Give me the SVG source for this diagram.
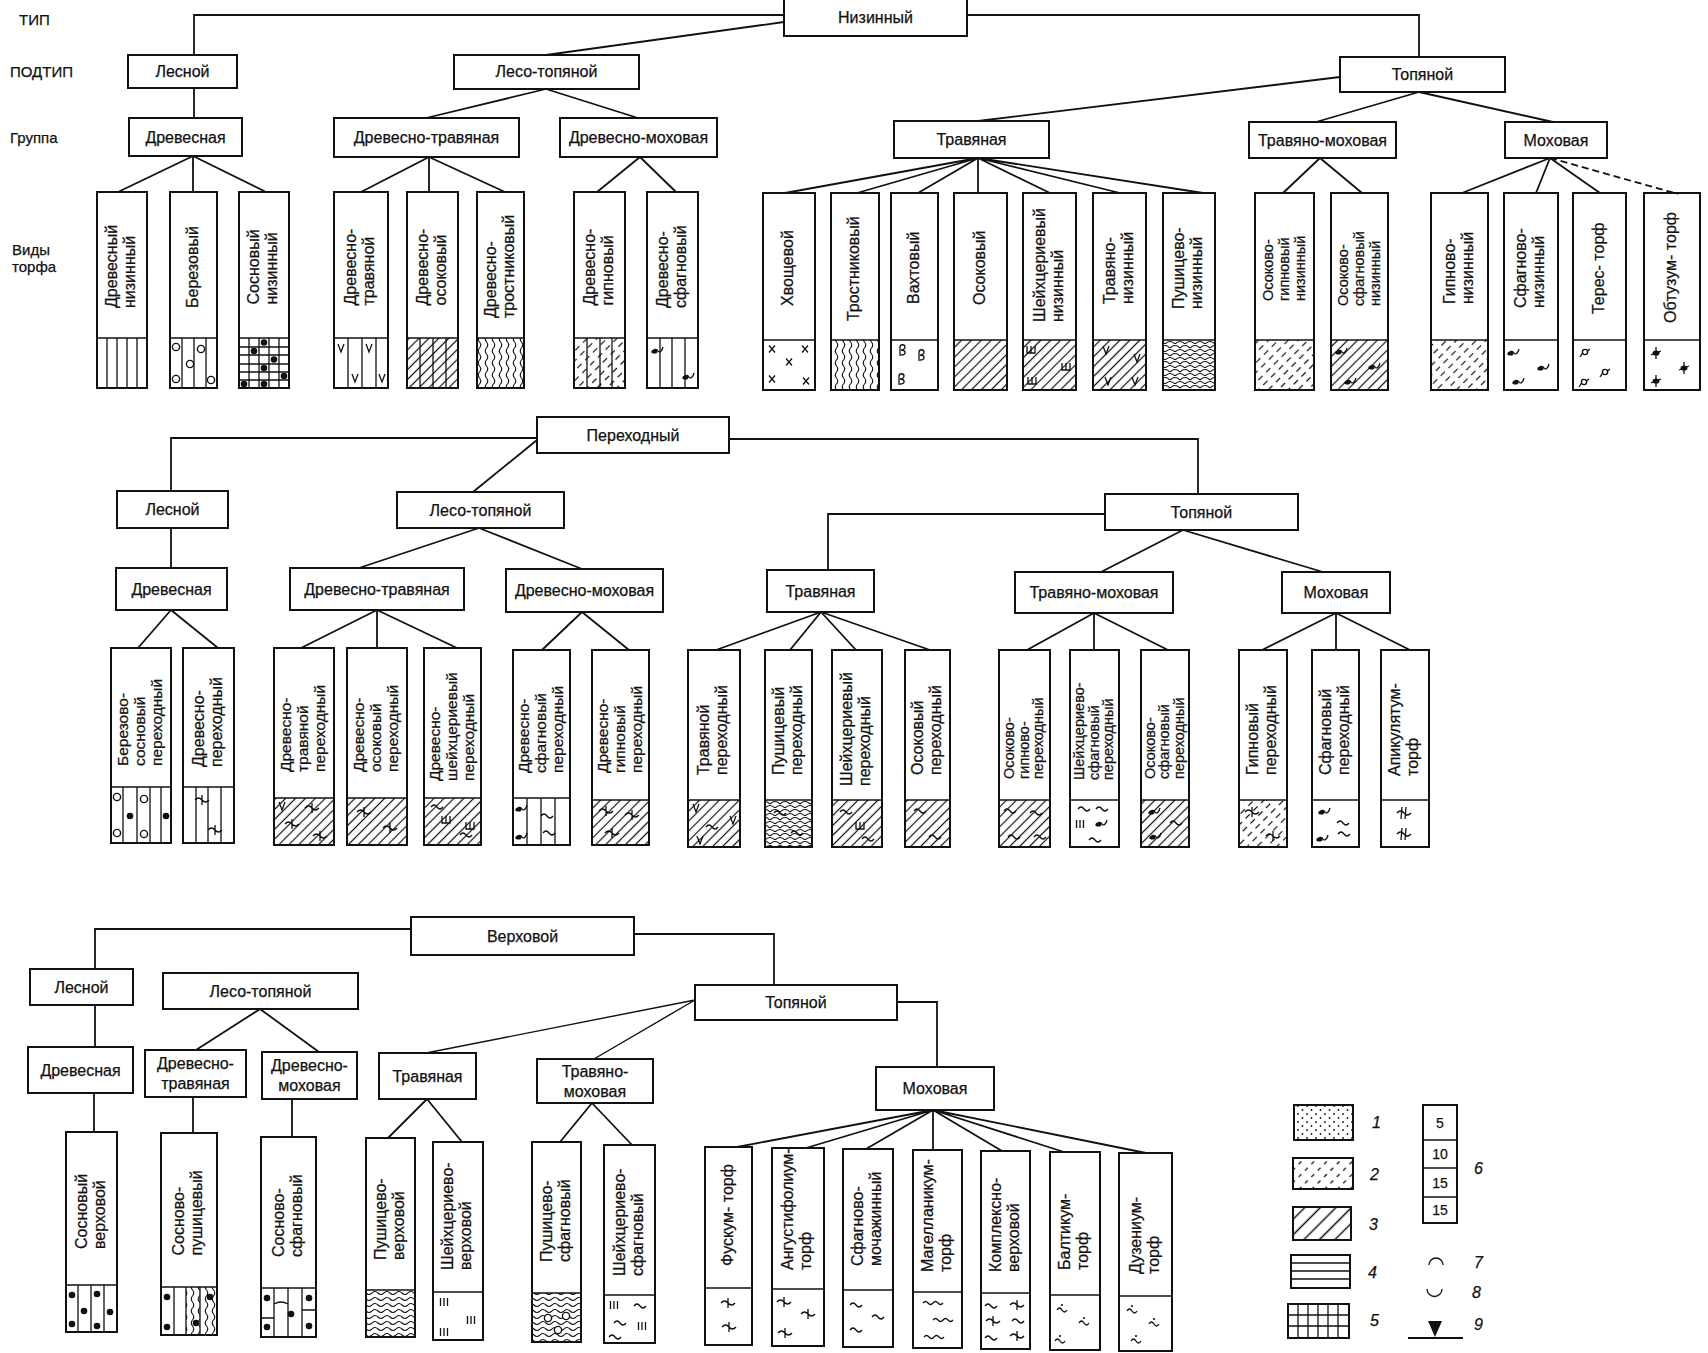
<svg xmlns="http://www.w3.org/2000/svg" width="1708" height="1353" viewBox="0 0 1708 1353">
<style>
.bx{fill:#fff;stroke:#111;stroke-width:2}
.cn{fill:none;stroke:#111;stroke-width:1.8}
.col{fill:none;stroke:#111;stroke-width:2}
.dv{stroke:#111;stroke-width:1.6}
.pl{stroke:#111;stroke-width:1.3;fill:none}
text{font-family:"Liberation Sans","DejaVu Sans",sans-serif;fill:#111;stroke:#111;stroke-width:0.25}
.bt{font-size:16px;text-anchor:middle}
.ct{font-size:16px}
.c3{font-size:15.5px}
.c14{font-size:14.5px}
.cs{font-size:14.5px}
.side{font-size:15px}
.lg{font-size:16px;font-style:italic}
.lgn{font-size:14px;text-anchor:middle}
</style>
<defs>
<pattern id="pd" patternUnits="userSpaceOnUse" width="7" height="7" patternTransform="rotate(45)"><line x1="3.5" y1="-1" x2="3.5" y2="8" stroke="#111" stroke-width="1.2"/></pattern>
<pattern id="pdd" patternUnits="userSpaceOnUse" width="7" height="11" patternTransform="rotate(45)"><line x1="3.5" y1="0" x2="3.5" y2="6" stroke="#111" stroke-width="1.2"/></pattern>
<pattern id="pd3" patternUnits="userSpaceOnUse" width="11" height="11" patternTransform="rotate(45)"><line x1="5.5" y1="-1" x2="5.5" y2="12" stroke="#111" stroke-width="1.5"/></pattern>
<pattern id="pdl" patternUnits="userSpaceOnUse" width="9" height="9" patternTransform="rotate(45)"><line x1="4.5" y1="0" x2="4.5" y2="4" stroke="#111" stroke-width="1.3"/></pattern>
<pattern id="pwv" patternUnits="userSpaceOnUse" width="7" height="12"><path d="M3.5,0Q1,3 3.5,6T3.5,12" fill="none" stroke="#111" stroke-width="1.1"/></pattern>
<pattern id="pwh" patternUnits="userSpaceOnUse" width="12" height="6"><path d="M0,3Q3,0 6,3T12,3" fill="none" stroke="#111" stroke-width="1.1"/></pattern>
<pattern id="psc" patternUnits="userSpaceOnUse" width="10" height="8"><path d="M0,4Q5,-1 10,4M-5,8Q0,3 5,8M5,8Q10,3 15,8" fill="none" stroke="#111" stroke-width="1.1"/></pattern>
<pattern id="pdot" patternUnits="userSpaceOnUse" width="9" height="8"><circle cx="2" cy="2" r="0.9" fill="#111"/><circle cx="6.5" cy="6" r="0.9" fill="#111"/></pattern>
<g id="sx"><path class="pl" d="M-3,-3.5L3,3.5M3,-3.5L-3,3.5"/></g>
<g id="so"><circle r="3.6" fill="#fff" stroke="#111" stroke-width="1.4"/></g>
<g id="sdot"><circle r="3.3" fill="#111"/></g>
<g id="sv"><path class="pl" d="M-3,-4L0,4L3,-4"/></g>
<g id="ssph"><path class="pl" d="M-5,3C-3,-2 0,-1 1,1C2,3 5,2 6,-3"/><ellipse cx="-2.5" cy="1.5" rx="3" ry="2" fill="#111"/></g>
<g id="sw"><path class="pl" d="M-6,1Q-3,-3 0,1T6,1"/></g>
<g id="s3"><path class="pl" d="M-3.5,-4V4M0,-4V4M3.5,-4V4"/></g>
<g id="ssh"><path class="pl" d="M-4,-4V3H4V-4M0,-4V3"/></g>
<g id="shy"><path class="pl" d="M-7,0Q-3.5,-4 0,0T7,0M0,-5V5"/></g>
<g id="sleaf"><path class="pl" d="M-2,6V-3C-2,-6 3,-6 3,-3C3,-1 1,0 -1,0C4,0 5,5 -1,5"/></g>
<g id="ster"><circle r="2.6" fill="none" stroke="#111" stroke-width="1.4"/><path class="pl" d="M-2.4,1L-5,5M2.5,-1L5,-3"/></g>
<g id="sob"><ellipse rx="3.5" ry="2.6" fill="#111"/><path class="pl" d="M0,-6V6M-5,2L5,-2"/></g>
<g id="sap"><path class="pl" d="M-7,0Q-3.5,-4 0,0T7,0M-2,-6L-3,6M2,-6L1,6"/></g>
<g id="swd"><path class="pl" d="M-5,1Q-2.5,-3 0,1T5,1"/><circle cx="0" cy="-4" r="1.1" fill="#111"/></g>
<g id="sww"><path class="pl" d="M-10,0Q-7.5,-3 -5,0T0,0T5,0T10,0"/></g>
</defs>
<rect x="0" y="0" width="1708" height="1353" fill="#fff"/>

<g id="side-labels" class="side">
<text x="19" y="25">ТИП</text>
<text x="10" y="77">ПОДТИП</text>
<text x="10" y="143">Группа</text>
<text x="12" y="255">Виды</text>
<text x="12" y="272">торфа</text>
</g>

<g id="connectors" class="cn">
<path d="M784,15H194V55M784,22L546,55M967,15H1419V57M194,88V118"/>
<path d="M546,89L426,118M546,89L638,118"/>
<path d="M193,156L118,192M193,156V192M193,156L266,192"/>
<path d="M429,157L361,192M429,157V192M429,157L505,192"/>
<path d="M640,157L597,192M640,157L676,192"/>
<path d="M1340,77L978,121M1419,92L1316,122M1419,92L1553,122"/>
<path d="M978,158L785,193M978,158L857,193M978,158L918,193M978,158V193M978,158L1050,193M978,158L1120,193M978,158L1203,193"/>
<path d="M1320,158L1283,193M1320,158L1362,193"/>
<path d="M1550,158L1462,193M1550,158L1536,193M1550,158L1600,193"/>
<path d="M1550,158L1678,194" stroke-dasharray="7 4"/>
<path d="M537,438H171V491M537,440L473,492M729,439H1198V494M171,528V568"/>
<path d="M479,528L359,568M479,528L582,569M1105,514H828V570M1183,530L1101,572M1183,530L1323,572"/>
<path d="M171,610L138,648M171,610L218,648"/>
<path d="M377,610L301,648M377,610V648M377,610L457,648"/>
<path d="M582,612L542,650M582,612L629,650"/>
<path d="M821,612L716,650M821,612L790,650M821,612L856,650M821,612L930,650"/>
<path d="M1094,613L1027,650M1094,613V650M1094,613L1168,650"/>
<path d="M1336,613L1262,650M1336,613V650M1336,613L1410,650"/>
<path d="M411,929H95V969M634,934H774V985M95,1005V1047"/>
<path d="M260,1009L196,1050M260,1009L319,1052"/>
<path d="M695,1000L426,1053M695,1000L594,1059" stroke-width="1.4"/>
<path d="M897,1002H937V1067"/>
<path d="M94,1093V1132M193,1097V1133M292,1099V1137"/>
<path d="M427,1099L388,1138M427,1099L462,1142M592,1103L560,1142M592,1103L632,1145"/>
<path d="M933,1110L737,1147M933,1110L806,1148M933,1110L866,1149M933,1110V1150M933,1110L1002,1151M933,1110L1064,1152M933,1110L1146,1153"/>
</g>

<!-- Section 1 boxes -->
<g id="b-nizinny"><rect class="bx" x="784" y="-2" width="183" height="38"/><text class="bt" x="875.5" y="23">Низинный</text></g>
<g id="b1-lesnoy"><rect class="bx" x="128" y="55" width="109" height="33"/><text class="bt" x="182.5" y="77">Лесной</text></g>
<g id="b1-lesotop"><rect class="bx" x="454" y="55" width="185" height="34"/><text class="bt" x="546.5" y="77">Лесо-топяной</text></g>
<g id="b1-topyanoy"><rect class="bx" x="1340" y="57" width="165" height="35"/><text class="bt" x="1422.5" y="80">Топяной</text></g>
<g id="b1-drev"><rect class="bx" x="129" y="118" width="113" height="38"/><text class="bt" x="185.5" y="142.5">Древесная</text></g>
<g id="b1-drevtr"><rect class="bx" x="334" y="118" width="185" height="39"/><text class="bt" x="426.5" y="143">Древесно-травяная</text></g>
<g id="b1-drevmh"><rect class="bx" x="560" y="118" width="157" height="39"/><text class="bt" x="638.5" y="143">Древесно-моховая</text></g>
<g id="b1-trav"><rect class="bx" x="894" y="121" width="155" height="37"/><text class="bt" x="971.5" y="145">Травяная</text></g>
<g id="b1-travmh"><rect class="bx" x="1249" y="122" width="147" height="36"/><text class="bt" x="1322.5" y="145.5">Травяно-моховая</text></g>
<g id="b1-moh"><rect class="bx" x="1505" y="122" width="102" height="36"/><text class="bt" x="1556" y="145.5">Моховая</text></g>

<!-- Section 1 columns -->
<g id="v1-a">
<path class="pl" d="M107,338V388M117,338V388M127,338V388M137,338V388"/>
<rect class="col" x="97" y="192" width="50" height="196"/><line class="dv" x1="97" y1="338" x2="147" y2="338"/>
<text class="ct" transform="translate(117,308) rotate(-90)"><tspan x="0" y="0">Древесный</tspan><tspan x="0" y="18">низинный</tspan></text>
</g>
<g id="v1-b">
<path class="pl" d="M182,338V388M194,338V388M206,338V388"/>
<use href="#so" x="176" y="347"/><use href="#so" x="201" y="349"/><use href="#so" x="190" y="364"/><use href="#so" x="176" y="379"/><use href="#so" x="211" y="380"/>
<rect class="col" x="170" y="192" width="47" height="196"/><line class="dv" x1="170" y1="338" x2="217" y2="338"/>
<text class="ct" transform="translate(197.5,308) rotate(-90)">Березовый</text>
</g>
<g id="v1-c">
<path class="pl" d="M249,338V388M259,338V388M269,338V388M279,338V388M239,347H289M239,355H289M239,364H289M239,372H289M239,380H289"/>
<use href="#sdot" x="264" y="342.5"/><use href="#sdot" x="254" y="351"/><use href="#sdot" x="274" y="359.5"/><use href="#sdot" x="264" y="368"/><use href="#sdot" x="244" y="384"/><use href="#sdot" x="264" y="384"/><use href="#sdot" x="284" y="376"/>
<rect class="col" x="239" y="192" width="50" height="196"/><line class="dv" x1="239" y1="338" x2="289" y2="338"/>
<text class="ct" transform="translate(259,304.5) rotate(-90)"><tspan x="0" y="0">Сосновый</tspan><tspan x="0" y="18">низинный</tspan></text>
</g>
<g id="v1-d">
<path class="pl" d="M348,338V388M362,338V388M376,338V388"/>
<use href="#sv" x="341" y="348"/><use href="#sv" x="369" y="348"/><use href="#sv" x="355" y="378"/><use href="#sv" x="382" y="378"/>
<rect class="col" x="334" y="192" width="54" height="196"/><line class="dv" x1="334" y1="338" x2="388" y2="338"/>
<text class="ct" transform="translate(356,305.5) rotate(-90)"><tspan x="0" y="0">Древесно-</tspan><tspan x="0" y="18">травяной</tspan></text>
</g>
<g id="v1-e">
<rect x="407" y="338" width="51" height="50" fill="url(#pd)"/>
<path class="pl" d="M420,338V388M433,338V388M446,338V388"/>
<rect class="col" x="407" y="192" width="51" height="196"/><line class="dv" x1="407" y1="338" x2="458" y2="338"/>
<text class="ct" transform="translate(427.5,305.5) rotate(-90)"><tspan x="0" y="0">Древесно-</tspan><tspan x="0" y="18">осоковый</tspan></text>
</g>
<g id="v1-f">
<rect x="477" y="338" width="47" height="50" fill="url(#pwv)"/>
<rect class="col" x="477" y="192" width="47" height="196"/><line class="dv" x1="477" y1="338" x2="524" y2="338"/>
<text class="ct" transform="translate(495.5,318) rotate(-90)"><tspan x="0" y="0">Древесно-</tspan><tspan x="0" y="18">тростниковый</tspan></text>
</g>
<g id="v1-g">
<rect x="574" y="338" width="51" height="50" fill="url(#pdd)"/>
<path class="pl" d="M587,338V388M600,338V388M612,338V388"/>
<rect class="col" x="574" y="192" width="51" height="196"/><line class="dv" x1="574" y1="338" x2="625" y2="338"/>
<text class="ct" transform="translate(594.5,305.5) rotate(-90)"><tspan x="0" y="0">Древесно-</tspan><tspan x="0" y="18">гипновый</tspan></text>
</g>
<g id="v1-h">
<path class="pl" d="M660,338V388M672,338V388M685,338V388"/>
<use href="#ssph" x="657" y="350"/><use href="#ssph" x="688" y="376"/>
<rect class="col" x="647" y="192" width="51" height="196"/><line class="dv" x1="647" y1="338" x2="698" y2="338"/>
<text class="ct" transform="translate(667.5,308) rotate(-90)"><tspan x="0" y="0">Древесно-</tspan><tspan x="0" y="18">сфагновый</tspan></text>
</g>
<g id="v1-i">
<use href="#sx" x="772" y="349"/><use href="#sx" x="805" y="349"/><use href="#sx" x="789" y="362"/><use href="#sx" x="772" y="379"/><use href="#sx" x="806" y="381"/>
<rect class="col" x="763" y="193" width="52" height="197"/><line class="dv" x1="763" y1="340" x2="815" y2="340"/>
<text class="ct" transform="translate(793,306) rotate(-90)">Хвощевой</text>
</g>
<g id="v1-j">
<rect x="831" y="340" width="48" height="50" fill="url(#pwv)"/>
<rect class="col" x="831" y="193" width="48" height="197"/><line class="dv" x1="831" y1="340" x2="879" y2="340"/>
<text class="ct" transform="translate(859,321) rotate(-90)">Тростниковый</text>
</g>
<g id="v1-k">
<use href="#sleaf" x="902" y="350"/><use href="#sleaf" x="921" y="355"/><use href="#sleaf" x="901" y="379"/>
<rect class="col" x="891" y="193" width="47" height="197"/><line class="dv" x1="891" y1="340" x2="938" y2="340"/>
<text class="ct" transform="translate(918.5,304) rotate(-90)">Вахтовый</text>
</g>
<g id="v1-l">
<rect x="954" y="340" width="53" height="50" fill="url(#pd)"/>
<rect class="col" x="954" y="193" width="53" height="197"/><line class="dv" x1="954" y1="340" x2="1007" y2="340"/>
<text class="ct" transform="translate(984.5,305) rotate(-90)">Осоковый</text>
</g>
<g id="v1-m">
<rect x="1023" y="340" width="53" height="50" fill="url(#pd)"/>
<use href="#ssh" x="1031" y="350"/><use href="#ssh" x="1066" y="367"/><use href="#ssh" x="1032" y="381"/>
<rect class="col" x="1023" y="193" width="53" height="197"/><line class="dv" x1="1023" y1="340" x2="1076" y2="340"/>
<text class="ct" transform="translate(1044.5,322) rotate(-90)"><tspan x="0" y="0">Шейхцериевый</tspan><tspan x="0" y="18">низинный</tspan></text>
</g>
<g id="v1-n">
<rect x="1093" y="340" width="53" height="50" fill="url(#pd)"/>
<use href="#sv" x="1106" y="350"/><use href="#sv" x="1137" y="358"/><use href="#sv" x="1108" y="381"/><use href="#sv" x="1135" y="381"/>
<rect class="col" x="1093" y="193" width="53" height="197"/><line class="dv" x1="1093" y1="340" x2="1146" y2="340"/>
<text class="ct" transform="translate(1114.5,304) rotate(-90)"><tspan x="0" y="0">Травяно-</tspan><tspan x="0" y="18">низинный</tspan></text>
</g>
<g id="v1-o">
<rect x="1163" y="340" width="52" height="50" fill="url(#psc)"/>
<rect class="col" x="1163" y="193" width="52" height="197"/><line class="dv" x1="1163" y1="340" x2="1215" y2="340"/>
<text class="ct" transform="translate(1184,309) rotate(-90)"><tspan x="0" y="0">Пушицево-</tspan><tspan x="0" y="18">низинный</tspan></text>
</g>
<g id="v1-p">
<rect x="1255" y="340" width="59" height="50" fill="url(#pdd)"/>
<rect class="col" x="1255" y="193" width="59" height="197"/><line class="dv" x1="1255" y1="340" x2="1314" y2="340"/>
<text class="c14" transform="translate(1272.5,301) rotate(-90)"><tspan x="0" y="0">Осоково-</tspan><tspan x="0" y="16">гипновый</tspan><tspan x="0" y="32">низинный</tspan></text>
</g>
<g id="v1-q">
<rect x="1331" y="340" width="57" height="50" fill="url(#pd)"/>
<use href="#ssph" x="1341" y="351"/><use href="#ssph" x="1374" y="366"/><use href="#ssph" x="1350" y="381"/>
<rect class="col" x="1331" y="193" width="57" height="197"/><line class="dv" x1="1331" y1="340" x2="1388" y2="340"/>
<text class="c14" transform="translate(1347.5,306) rotate(-90)"><tspan x="0" y="0">Осоково-</tspan><tspan x="0" y="16">сфагновый</tspan><tspan x="0" y="32">низинный</tspan></text>
</g>
<g id="v1-r">
<rect x="1431" y="340" width="57" height="50" fill="url(#pdd)"/>
<rect class="col" x="1431" y="193" width="57" height="197"/><line class="dv" x1="1431" y1="340" x2="1488" y2="340"/>
<text class="ct" transform="translate(1454.5,304) rotate(-90)"><tspan x="0" y="0">Гипново-</tspan><tspan x="0" y="18">низинный</tspan></text>
</g>
<g id="v1-s">
<use href="#ssph" x="1513" y="352"/><use href="#ssph" x="1543" y="367"/><use href="#ssph" x="1518" y="381"/>
<rect class="col" x="1504" y="193" width="54" height="197"/><line class="dv" x1="1504" y1="340" x2="1558" y2="340"/>
<text class="ct" transform="translate(1526,308) rotate(-90)"><tspan x="0" y="0">Сфагново-</tspan><tspan x="0" y="18">низинный</tspan></text>
</g>
<g id="v1-t">
<use href="#ster" x="1585" y="352"/><use href="#ster" x="1605" y="372"/><use href="#ster" x="1584" y="382"/>
<rect class="col" x="1573" y="193" width="53" height="197"/><line class="dv" x1="1573" y1="340" x2="1626" y2="340"/>
<text class="ct" transform="translate(1603.5,314) rotate(-90)">Терес- торф</text>
</g>
<g id="v1-u">
<use href="#sob" x="1656" y="353"/><use href="#sob" x="1684" y="368"/><use href="#sob" x="1656" y="381"/>
<rect class="col" x="1644" y="193" width="56" height="197"/><line class="dv" x1="1644" y1="340" x2="1700" y2="340"/>
<text class="ct" transform="translate(1676,323) rotate(-90)">Обтузум- торф</text>
</g>

<!-- Section 2 boxes -->
<g id="b-perehod"><rect class="bx" x="537" y="417" width="192" height="36"/><text class="bt" x="633" y="440.5">Переходный</text></g>
<g id="b2-lesnoy"><rect class="bx" x="117" y="491" width="111" height="37"/><text class="bt" x="172.5" y="514.5">Лесной</text></g>
<g id="b2-lesotop"><rect class="bx" x="397" y="492" width="167" height="36"/><text class="bt" x="480.5" y="515.5">Лесо-топяной</text></g>
<g id="b2-topyanoy"><rect class="bx" x="1105" y="494" width="193" height="36"/><text class="bt" x="1201.5" y="517.5">Топяной</text></g>
<g id="b2-drev"><rect class="bx" x="116" y="568" width="111" height="42"/><text class="bt" x="171.5" y="594.5">Древесная</text></g>
<g id="b2-drevtr"><rect class="bx" x="290" y="568" width="174" height="42"/><text class="bt" x="377" y="594.5">Древесно-травяная</text></g>
<g id="b2-drevmh"><rect class="bx" x="506" y="569" width="157" height="43"/><text class="bt" x="584.5" y="596">Древесно-моховая</text></g>
<g id="b2-trav"><rect class="bx" x="767" y="570" width="107" height="42"/><text class="bt" x="820.5" y="596.5">Травяная</text></g>
<g id="b2-travmh"><rect class="bx" x="1015" y="572" width="158" height="41"/><text class="bt" x="1094" y="598">Травяно-моховая</text></g>
<g id="b2-moh"><rect class="bx" x="1282" y="572" width="108" height="41"/><text class="bt" x="1336" y="598">Моховая</text></g>

<!-- Section 2 columns -->
<g id="v2-a">
<path class="pl" d="M123,787V843M137,787V843M150,787V843M161,787V843"/>
<use href="#so" x="117" y="797"/><use href="#so" x="144" y="799"/><use href="#so" x="117" y="833"/><use href="#so" x="144" y="834"/><use href="#sdot" x="130" y="816"/><use href="#sdot" x="166" y="816"/>
<rect class="col" x="111" y="648" width="60" height="195"/><line class="dv" x1="111" y1="787" x2="171" y2="787"/>
<text class="c3" transform="translate(128,766) rotate(-90)"><tspan x="0" y="0">Березово-</tspan><tspan x="0" y="17">сосновый</tspan><tspan x="0" y="34">переходный</tspan></text>
</g>
<g id="v2-b">
<path class="pl" d="M196,787V843M208,787V843M221,787V843"/>
<use href="#shy" x="202" y="800"/><use href="#shy" x="215" y="830"/>
<rect class="col" x="183" y="648" width="51" height="195"/><line class="dv" x1="183" y1="787" x2="234" y2="787"/>
<text class="ct" transform="translate(203.5,767) rotate(-90)"><tspan x="0" y="0">Древесно-</tspan><tspan x="0" y="18">переходный</tspan></text>
</g>
<g id="v2-c">
<rect x="274" y="798" width="60" height="47" fill="url(#pd)"/>
<use href="#sv" x="282" y="806"/><use href="#shy" x="312" y="808"/><use href="#shy" x="292" y="824"/><use href="#shy" x="320" y="836"/>
<rect class="col" x="274" y="648" width="60" height="197"/><line class="dv" x1="274" y1="798" x2="334" y2="798"/>
<text class="c3" transform="translate(291,772) rotate(-90)"><tspan x="0" y="0">Древесно-</tspan><tspan x="0" y="17">травяной</tspan><tspan x="0" y="34">переходный</tspan></text>
</g>
<g id="v2-d">
<rect x="347" y="798" width="60" height="47" fill="url(#pd)"/>
<use href="#shy" x="364" y="812"/><use href="#shy" x="390" y="828"/>
<rect class="col" x="347" y="648" width="60" height="197"/><line class="dv" x1="347" y1="798" x2="407" y2="798"/>
<text class="c3" transform="translate(364,772) rotate(-90)"><tspan x="0" y="0">Древесно-</tspan><tspan x="0" y="17">осоковый</tspan><tspan x="0" y="34">переходный</tspan></text>
</g>
<g id="v2-e">
<rect x="424" y="798" width="57" height="47" fill="url(#pd)"/>
<use href="#sw" x="437" y="806"/><use href="#ssh" x="446" y="820"/><use href="#sw" x="466" y="834"/><use href="#ssh" x="470" y="826"/>
<rect class="col" x="424" y="648" width="57" height="197"/><line class="dv" x1="424" y1="798" x2="481" y2="798"/>
<text class="c3" transform="translate(439.5,781) rotate(-90)"><tspan x="0" y="0">Древесно-</tspan><tspan x="0" y="17">шейхцериевый</tspan><tspan x="0" y="34">переходный</tspan></text>
</g>
<g id="v2-f">
<path class="pl" d="M527,798V845M541,798V845M555,798V845"/>
<use href="#ssph" x="521" y="808"/><use href="#ssph" x="521" y="836"/><use href="#sw" x="547" y="815"/><use href="#sw" x="549" y="832"/>
<rect class="col" x="513" y="650" width="57" height="195"/><line class="dv" x1="513" y1="798" x2="570" y2="798"/>
<text class="c3" transform="translate(528.5,773) rotate(-90)"><tspan x="0" y="0">Древесно-</tspan><tspan x="0" y="17">сфагновый</tspan><tspan x="0" y="34">переходный</tspan></text>
</g>
<g id="v2-g">
<rect x="592" y="800" width="57" height="45" fill="url(#pd)"/>
<use href="#shy" x="606" y="811"/><use href="#shy" x="632" y="815"/><use href="#shy" x="612" y="833"/>
<rect class="col" x="592" y="650" width="57" height="195"/><line class="dv" x1="592" y1="800" x2="649" y2="800"/>
<text class="c3" transform="translate(607.5,773) rotate(-90)"><tspan x="0" y="0">Древесно-</tspan><tspan x="0" y="17">гипновый</tspan><tspan x="0" y="34">переходный</tspan></text>
</g>
<g id="v2-h">
<rect x="688" y="800" width="52" height="47" fill="url(#pd)"/>
<use href="#sv" x="696" y="808"/><use href="#sv" x="733" y="820"/><use href="#sw" x="712" y="826"/><use href="#sv" x="700" y="840"/>
<rect class="col" x="688" y="650" width="52" height="197"/><line class="dv" x1="688" y1="800" x2="740" y2="800"/>
<text class="ct" transform="translate(709,775) rotate(-90)"><tspan x="0" y="0">Травяной</tspan><tspan x="0" y="18">переходный</tspan></text>
</g>
<g id="v2-i">
<rect x="765" y="800" width="47" height="47" fill="url(#psc)"/>
<use href="#sw" x="780" y="812"/><use href="#sw" x="797" y="832"/>
<rect class="col" x="765" y="650" width="47" height="197"/><line class="dv" x1="765" y1="800" x2="812" y2="800"/>
<text class="ct" transform="translate(783.5,775) rotate(-90)"><tspan x="0" y="0">Пушицевый</tspan><tspan x="0" y="18">переходный</tspan></text>
</g>
<g id="v2-j">
<rect x="832" y="800" width="50" height="47" fill="url(#pd)"/>
<use href="#sw" x="846" y="811"/><use href="#ssh" x="860" y="826"/><use href="#sw" x="868" y="838"/>
<rect class="col" x="832" y="650" width="50" height="197"/><line class="dv" x1="832" y1="800" x2="882" y2="800"/>
<text class="ct" transform="translate(852,786) rotate(-90)"><tspan x="0" y="0">Шейхцериевый</tspan><tspan x="0" y="18">переходный</tspan></text>
</g>
<g id="v2-k">
<rect x="905" y="800" width="45" height="47" fill="url(#pd)"/>
<use href="#sw" x="920" y="810"/><use href="#sw" x="935" y="836"/>
<rect class="col" x="905" y="650" width="45" height="197"/><line class="dv" x1="905" y1="800" x2="950" y2="800"/>
<text class="ct" transform="translate(922.5,775) rotate(-90)"><tspan x="0" y="0">Осоковый</tspan><tspan x="0" y="18">переходный</tspan></text>
</g>
<g id="v2-l">
<rect x="999" y="800" width="51" height="47" fill="url(#pd)"/>
<use href="#sw" x="1010" y="810"/><use href="#sw" x="1036" y="812"/><use href="#sw" x="1014" y="836"/><use href="#sw" x="1040" y="836"/>
<rect class="col" x="999" y="650" width="51" height="197"/><line class="dv" x1="999" y1="800" x2="1050" y2="800"/>
<text class="cs" transform="translate(1014,779) rotate(-90)"><tspan x="0" y="0">Осоково-</tspan><tspan x="0" y="14.5">гипново-</tspan><tspan x="0" y="29">переходный</tspan></text>
</g>
<g id="v2-m">
<use href="#sw" x="1084" y="808"/><use href="#sw" x="1102" y="808"/><use href="#s3" x="1080" y="824"/><use href="#ssph" x="1101" y="823"/><use href="#sw" x="1095" y="839"/>
<rect class="col" x="1070" y="650" width="49" height="197"/><line class="dv" x1="1070" y1="800" x2="1119" y2="800"/>
<text class="cs" transform="translate(1084,780) rotate(-90)"><tspan x="0" y="0">Шейхцериево-</tspan><tspan x="0" y="14.5">сфагновый</tspan><tspan x="0" y="29">переходный</tspan></text>
</g>
<g id="v2-n">
<rect x="1141" y="800" width="48" height="47" fill="url(#pd)"/>
<use href="#ssph" x="1154" y="811"/><use href="#ssph" x="1155" y="836"/><use href="#sw" x="1176" y="822"/>
<rect class="col" x="1141" y="650" width="48" height="197"/><line class="dv" x1="1141" y1="800" x2="1189" y2="800"/>
<text class="cs" transform="translate(1154.5,779) rotate(-90)"><tspan x="0" y="0">Осоково-</tspan><tspan x="0" y="14.5">сфагновый</tspan><tspan x="0" y="29">переходный</tspan></text>
</g>
<g id="v2-o">
<rect x="1239" y="800" width="48" height="47" fill="url(#pdd)"/>
<use href="#shy" x="1252" y="812"/><use href="#shy" x="1273" y="836"/>
<rect class="col" x="1239" y="650" width="48" height="197"/><line class="dv" x1="1239" y1="800" x2="1287" y2="800"/>
<text class="ct" transform="translate(1258,775) rotate(-90)"><tspan x="0" y="0">Гипновый</tspan><tspan x="0" y="18">переходный</tspan></text>
</g>
<g id="v2-p">
<use href="#ssph" x="1324" y="811"/><use href="#ssph" x="1322" y="838"/><use href="#sw" x="1343" y="822"/><use href="#sw" x="1344" y="833"/>
<rect class="col" x="1312" y="650" width="47" height="197"/><line class="dv" x1="1312" y1="800" x2="1359" y2="800"/>
<text class="ct" transform="translate(1330.5,775) rotate(-90)"><tspan x="0" y="0">Сфагновый</tspan><tspan x="0" y="18">переходный</tspan></text>
</g>
<g id="v2-q">
<use href="#sap" x="1404" y="813"/><use href="#sap" x="1404" y="834"/>
<rect class="col" x="1381" y="650" width="48" height="197"/><line class="dv" x1="1381" y1="800" x2="1429" y2="800"/>
<text class="ct" transform="translate(1400,776) rotate(-90)"><tspan x="0" y="0">Апикулятум-</tspan><tspan x="0" y="18">торф</tspan></text>
</g>

<!-- Section 3 boxes -->
<g id="b-verhovoy"><rect class="bx" x="411" y="917" width="223" height="38"/><text class="bt" x="522.5" y="941.5">Верховой</text></g>
<g id="b3-lesnoy"><rect class="bx" x="30" y="969" width="103" height="36"/><text class="bt" x="81.5" y="992.5">Лесной</text></g>
<g id="b3-lesotop"><rect class="bx" x="163" y="973" width="195" height="36"/><text class="bt" x="260.5" y="996.5">Лесо-топяной</text></g>
<g id="b3-topyanoy"><rect class="bx" x="695" y="985" width="202" height="35"/><text class="bt" x="796" y="1008">Топяной</text></g>
<g id="b3-drev"><rect class="bx" x="28" y="1047" width="105" height="46"/><text class="bt" x="80.5" y="1075.5">Древесная</text></g>
<g id="b3-drevtr"><rect class="bx" x="145" y="1050" width="101" height="47"/><text class="bt" x="195.5" y="1069">Древесно-</text><text class="bt" x="195.5" y="1089">травяная</text></g>
<g id="b3-drevmh"><rect class="bx" x="262" y="1052" width="95" height="47"/><text class="bt" x="309.5" y="1071">Древесно-</text><text class="bt" x="309.5" y="1091">моховая</text></g>
<g id="b3-trav"><rect class="bx" x="379" y="1053" width="97" height="46"/><text class="bt" x="427.5" y="1081.5">Травяная</text></g>
<g id="b3-travmh"><rect class="bx" x="537" y="1059" width="116" height="44"/><text class="bt" x="595" y="1077">Травяно-</text><text class="bt" x="595" y="1097">моховая</text></g>
<g id="b3-moh"><rect class="bx" x="876" y="1067" width="118" height="43"/><text class="bt" x="935" y="1094">Моховая</text></g>

<!-- Section 3 columns -->
<g id="v3-1">
<path class="pl" d="M78,1285V1332M91,1285V1332M104,1285V1332"/>
<use href="#sdot" x="72" y="1295"/><use href="#sdot" x="97" y="1294"/><use href="#sdot" x="84" y="1311"/><use href="#sdot" x="110" y="1312"/><use href="#sdot" x="72" y="1324"/><use href="#sdot" x="97" y="1326"/>
<rect class="col" x="66" y="1132" width="51" height="200"/><line class="dv" x1="66" y1="1285" x2="117" y2="1285"/>
<text class="ct" transform="translate(86.5,1249) rotate(-90)"><tspan x="0" y="0">Сосновый</tspan><tspan x="0" y="18">верховой</tspan></text>
</g>
<g id="v3-2">
<rect x="186" y="1287" width="14" height="48" fill="url(#pwv)"/>
<rect x="203" y="1287" width="14" height="48" fill="url(#pwv)"/>
<path class="pl" d="M174,1287V1335M186,1287V1335M200,1287V1335"/>
<use href="#sdot" x="167" y="1297"/><use href="#sdot" x="167" y="1327"/><use href="#sdot" x="196" y="1323"/><use href="#sdot" x="210" y="1297"/>
<rect class="col" x="161" y="1133" width="56" height="202"/><line class="dv" x1="161" y1="1287" x2="217" y2="1287"/>
<text class="ct" transform="translate(184,1255.5) rotate(-90)"><tspan x="0" y="0">Сосново-</tspan><tspan x="0" y="18">пушицевый</tspan></text>
</g>
<g id="v3-3">
<path class="pl" d="M274,1288V1337M288,1288V1337M302,1288V1337M261,1318H274M302,1310H316M274,1304Q281,1300 288,1304"/>
<use href="#sdot" x="267" y="1298"/><use href="#sdot" x="267" y="1327"/><use href="#sdot" x="309" y="1298"/><use href="#sdot" x="309" y="1326"/><use href="#sdot" x="291" y="1314"/>
<rect class="col" x="261" y="1137" width="55" height="200"/><line class="dv" x1="261" y1="1288" x2="316" y2="1288"/>
<text class="ct" transform="translate(283.5,1257) rotate(-90)"><tspan x="0" y="0">Сосново-</tspan><tspan x="0" y="18">сфагновый</tspan></text>
</g>
<g id="v3-4">
<rect x="366" y="1290" width="49" height="47" fill="url(#pwh)"/>
<rect class="col" x="366" y="1138" width="49" height="199"/><line class="dv" x1="366" y1="1290" x2="415" y2="1290"/>
<text class="ct" transform="translate(385.5,1260) rotate(-90)"><tspan x="0" y="0">Пушицево-</tspan><tspan x="0" y="18">верховой</tspan></text>
</g>
<g id="v3-5">
<use href="#s3" x="444" y="1302"/><use href="#s3" x="471" y="1320"/><use href="#s3" x="444" y="1332"/>
<rect class="col" x="433" y="1142" width="50" height="198"/><line class="dv" x1="433" y1="1292" x2="483" y2="1292"/>
<text class="ct" transform="translate(453,1270) rotate(-90)"><tspan x="0" y="0">Шейхцериево-</tspan><tspan x="0" y="18">верховой</tspan></text>
</g>
<g id="v3-6">
<rect x="532" y="1293" width="49" height="49" fill="url(#pwh)"/>
<use href="#so" x="548" y="1318"/><use href="#so" x="566" y="1316"/><use href="#so" x="558" y="1330"/>
<rect class="col" x="532" y="1142" width="49" height="200"/><line class="dv" x1="532" y1="1293" x2="581" y2="1293"/>
<text class="ct" transform="translate(551.5,1262) rotate(-90)"><tspan x="0" y="0">Пушицево-</tspan><tspan x="0" y="18">сфагновый</tspan></text>
</g>
<g id="v3-7">
<use href="#s3" x="614" y="1305"/><use href="#sw" x="640" y="1305"/><use href="#sw" x="620" y="1322"/><use href="#s3" x="642" y="1326"/><use href="#sw" x="615" y="1336"/>
<rect class="col" x="604" y="1145" width="51" height="198"/><line class="dv" x1="604" y1="1295" x2="655" y2="1295"/>
<text class="ct" transform="translate(624.5,1276) rotate(-90)"><tspan x="0" y="0">Шейхцериево-</tspan><tspan x="0" y="18">сфагновый</tspan></text>
</g>
<g id="v3-8">
<use href="#shy" x="728" y="1303"/><use href="#shy" x="729" y="1327"/>
<rect class="col" x="705" y="1147" width="47" height="198"/><line class="dv" x1="705" y1="1288" x2="752" y2="1288"/>
<text class="ct" transform="translate(732.5,1266) rotate(-90)">Фускум- торф</text>
</g>
<g id="v3-9">
<use href="#shy" x="784" y="1302"/><use href="#shy" x="808" y="1314"/><use href="#shy" x="785" y="1333"/>
<rect class="col" x="772" y="1148" width="52" height="198"/><line class="dv" x1="772" y1="1289" x2="824" y2="1289"/>
<text class="ct" transform="translate(793,1270) rotate(-90)"><tspan x="0" y="0">Ангустифолиум-</tspan><tspan x="0" y="18">торф</tspan></text>
</g>
<g id="v3-10">
<use href="#sw" x="856" y="1304"/><use href="#sw" x="878" y="1316"/><use href="#sw" x="856" y="1329"/>
<rect class="col" x="843" y="1149" width="50" height="198"/><line class="dv" x1="843" y1="1290" x2="893" y2="1290"/>
<text class="ct" transform="translate(863,1266) rotate(-90)"><tspan x="0" y="0">Сфагново-</tspan><tspan x="0" y="18">мочажинный</tspan></text>
</g>
<g id="v3-11">
<use href="#sww" x="933" y="1303"/><use href="#sww" x="943" y="1320"/><use href="#sww" x="934" y="1337"/>
<rect class="col" x="913" y="1150" width="49" height="198"/><line class="dv" x1="913" y1="1292" x2="962" y2="1292"/>
<text class="ct" transform="translate(932.5,1272) rotate(-90)"><tspan x="0" y="0">Магелланикум-</tspan><tspan x="0" y="18">торф</tspan></text>
</g>
<g id="v3-12">
<use href="#sw" x="991" y="1305"/><use href="#shy" x="1017" y="1305"/><use href="#shy" x="993" y="1321"/><use href="#sw" x="1018" y="1320"/><use href="#sw" x="991" y="1337"/><use href="#shy" x="1017" y="1336"/>
<rect class="col" x="981" y="1151" width="49" height="198"/><line class="dv" x1="981" y1="1293" x2="1030" y2="1293"/>
<text class="ct" transform="translate(1000.5,1272) rotate(-90)"><tspan x="0" y="0">Комплексно-</tspan><tspan x="0" y="18">верховой</tspan></text>
</g>
<g id="v3-13">
<use href="#swd" x="1062" y="1309"/><use href="#swd" x="1084" y="1322"/><use href="#swd" x="1060" y="1340"/>
<rect class="col" x="1050" y="1152" width="50" height="198"/><line class="dv" x1="1050" y1="1295" x2="1100" y2="1295"/>
<text class="ct" transform="translate(1070,1270) rotate(-90)"><tspan x="0" y="0">Балтикум-</tspan><tspan x="0" y="18">торф</tspan></text>
</g>
<g id="v3-14">
<use href="#swd" x="1132" y="1310"/><use href="#swd" x="1154" y="1323"/><use href="#swd" x="1136" y="1340"/>
<rect class="col" x="1119" y="1153" width="53" height="198"/><line class="dv" x1="1119" y1="1296" x2="1172" y2="1296"/>
<text class="ct" transform="translate(1140.5,1274) rotate(-90)"><tspan x="0" y="0">Дузениум-</tspan><tspan x="0" y="18">торф</tspan></text>
</g>

<!-- Legend -->
<g id="legend">
<rect x="1294" y="1105" width="59" height="35" fill="url(#pdot)" stroke="#111" stroke-width="2"/>
<text class="lg" x="1372" y="1128">1</text>
<rect x="1293" y="1158" width="60" height="31" fill="url(#pdl)" stroke="#111" stroke-width="2"/>
<text class="lg" x="1370" y="1180">2</text>
<rect x="1293" y="1207" width="58" height="33" fill="url(#pd3)" stroke="#111" stroke-width="2"/>
<text class="lg" x="1369" y="1230">3</text>
<rect x="1291" y="1255" width="59" height="33" fill="none" stroke="#111" stroke-width="2"/>
<path class="pl" d="M1291,1263H1350M1291,1271H1350M1291,1279H1350" stroke-width="1.6"/>
<text class="lg" x="1368" y="1278">4</text>
<rect x="1288" y="1304" width="61" height="34" fill="none" stroke="#111" stroke-width="2"/>
<path class="pl" d="M1288,1315H1349M1288,1326H1349M1298,1304V1338M1308,1304V1338M1318,1304V1338M1328,1304V1338M1338,1304V1338" stroke-width="1.6"/>
<text class="lg" x="1370" y="1326">5</text>
<rect x="1423" y="1105" width="34" height="118" fill="none" stroke="#111" stroke-width="2"/>
<path class="pl" d="M1423,1140H1457M1423,1168H1457M1423,1197H1457" stroke-width="1.6"/>
<text class="lgn" x="1440" y="1128">5</text>
<text class="lgn" x="1440" y="1159">10</text>
<text class="lgn" x="1440" y="1188">15</text>
<text class="lgn" x="1440" y="1215">15</text>
<text class="lg" x="1474" y="1174">6</text>
<path class="pl" d="M1429,1265A7,7 0 0 1 1443,1265" stroke-width="1.8"/>
<text class="lg" x="1474" y="1268">7</text>
<path class="pl" d="M1427,1289A7.5,7.5 0 0 0 1442,1289" stroke-width="1.8"/>
<text class="lg" x="1472" y="1298">8</text>
<line x1="1408" y1="1338" x2="1463" y2="1338" stroke="#111" stroke-width="2"/>
<path d="M1428,1321H1442L1435,1337Z" fill="#111"/>
<text class="lg" x="1474" y="1330">9</text>
</g>
</svg>
